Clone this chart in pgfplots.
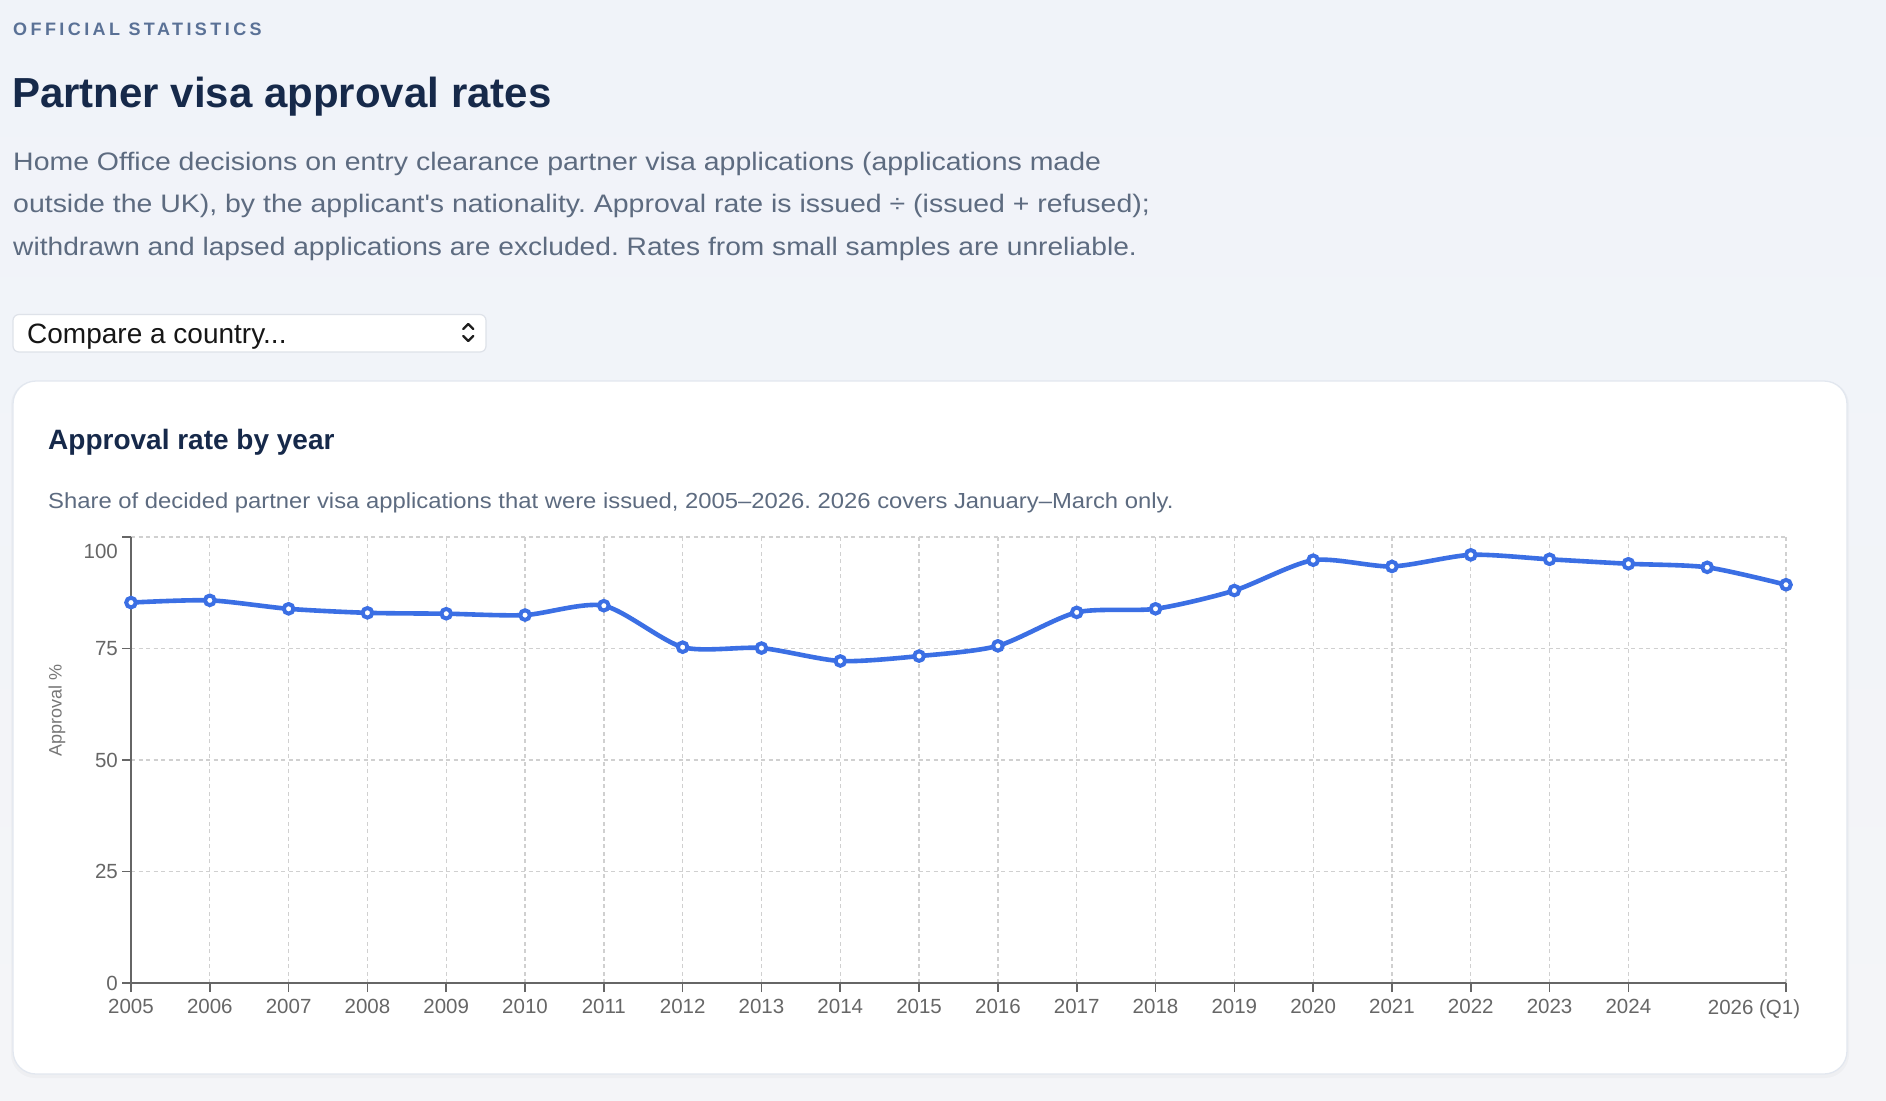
\documentclass[border=0pt]{standalone}
\usepackage{fontspec}
\setmainfont{Liberation Sans}
\newfontfamily\bodyfont{Liberation Sans}[FakeStretch=1.125]
\newfontfamily\bodyfontb{Liberation Sans}[FakeStretch=1.113]
\newfontfamily\subfont{Liberation Sans}[FakeStretch=1.093]
\usepackage{pgfplots}
\pgfplotsset{compat=1.18}
\definecolor{bgtop}{RGB}{240,243,249}
\definecolor{bgbot}{RGB}{244,245,248}
\definecolor{kicker}{RGB}{90,113,150}
\definecolor{navy}{RGB}{22,41,74}
\definecolor{descr}{RGB}{93,107,128}
\definecolor{cardline}{RGB}{226,231,239}
\definecolor{tickcol}{RGB}{102,102,102}
\definecolor{ylabcol}{RGB}{119,119,119}
\definecolor{gridcol}{RGB}{208,208,208}
\definecolor{linecol}{RGB}{59,111,228}
\definecolor{selectline}{RGB}{222,226,233}
\definecolor{selecttext}{RGB}{22,22,22}
\definecolor{chev}{RGB}{30,30,30}

\pgfplotstableread{
year rate
2005 85.3
2006 85.8
2007 83.9
2008 83.0
2009 82.8
2010 82.5
2011 84.6
2012 75.3
2013 75.1
2014 72.2
2015 73.3
2016 75.6
2017 83.1
2018 83.9
2019 88.0
2020 94.8
2021 93.4
2022 96.0
2023 95.0
2024 94.0
2025 93.2
2026 89.3
}\ratetable

\begin{document}
\frenchspacing
\begin{tikzpicture}
% page background
\shade[top color=bgtop, bottom color=bgbot] (0pt,0pt) rectangle (1886pt,-1100pt);

% header
\node[anchor=base west, inner sep=0pt, text=kicker,
      font=\fontsize{18}{20}\selectfont\bfseries\addfontfeatures{LetterSpace=19}]
  at (13pt,-35.7pt) {OFFICIAL STATISTICS};
\node[anchor=base west, inner sep=0pt, text=navy,
      font=\fontsize{42}{46}\selectfont\bfseries]
  at (12pt,-107pt) {Partner visa approval rates};
\node[anchor=base west, inner sep=0pt, text=descr, font=\bodyfont\fontsize{25.3}{30}\selectfont]
  at (13pt,-170pt) {Home Office decisions on entry clearance partner visa applications (applications made};
\node[anchor=base west, inner sep=0pt, text=descr, font=\bodyfont\fontsize{25.3}{30}\selectfont]
  at (13pt,-212.7pt) {outside the UK), by the applicant's nationality. Approval rate is issued ÷ (issued + refused);};
\node[anchor=base west, inner sep=0pt, text=descr, font=\bodyfontb\fontsize{25.3}{30}\selectfont]
  at (13pt,-255.3pt) {withdrawn and lapsed applications are excluded. Rates from small samples are unreliable.};

% select box
\filldraw[fill=white, draw=selectline, line width=1.2pt, rounded corners=6pt]
  (13pt,-314.5pt) rectangle (486pt,-352pt);
\node[anchor=base west, inner sep=0pt, text=selecttext, font=\fontsize{28}{30}\selectfont]
  at (27pt,-343pt) {Compare a country...};
\draw[line width=2.3pt, draw=chev, line cap=round, line join=round]
  (463.3pt,-329pt) -- (468.3pt,-324pt) -- (473.3pt,-329pt);
\draw[line width=2.3pt, draw=chev, line cap=round, line join=round]
  (463.3pt,-336pt) -- (468.3pt,-341pt) -- (473.3pt,-336pt);

% card
\fill[black, opacity=0.025, rounded corners=24pt] (11pt,-381pt) rectangle (1849pt,-1078pt);
\filldraw[fill=white, draw=cardline, line width=1.3pt, rounded corners=23pt]
  (13pt,-381pt) rectangle (1847pt,-1074pt);
\node[anchor=base west, inner sep=0pt, text=navy, font=\fontsize{28}{32}\selectfont\bfseries]
  at (48pt,-449pt) {Approval rate by year};
\node[anchor=base west, inner sep=0pt, text=descr, font=\subfont\fontsize{21.8}{26}\selectfont]
  at (48pt,-508pt) {Share of decided partner visa applications that were issued, 2005–2026. 2026 covers January–March only.};

\begin{axis}[
  at={(131pt,-983pt)}, anchor=south west,
  scale only axis, width=1655pt, height=446pt,
  xmin=2005, xmax=2026, ymin=0, ymax=100,
  axis lines=left,
  axis line style={draw=tickcol, line width=2pt, -},
  xtick={2005,2006,2007,2008,2009,2010,2011,2012,2013,2014,2015,2016,2017,2018,2019,2020,2021,2022,2023,2024,2026},
  xticklabels={2005,2006,2007,2008,2009,2010,2011,2012,2013,2014,2015,2016,2017,2018,2019,2020,2021,2022,2023,2024,{\hspace*{-64pt}2026 (Q1)}},
  ytick={0,25,50,75,100},
  yticklabels={0,25,50,75,{\smash{\raisebox{-21pt}{100}}}},
  tick align=outside,
  major tick length=9pt,
  tick style={draw=tickcol, line width=1.6pt},
  tick label style={font=\fontsize{20.5}{24}\selectfont, text=tickcol, inner sep=0pt},
  xticklabel shift=7pt,
  yticklabel shift=4pt,
  grid=major,
  grid style={draw=gridcol, line width=1.3pt, dash pattern=on 4pt off 3.5pt},
  ylabel={Approval \%},
  every axis y label/.style={at={(axis description cs:-0.0447,0.61)}, rotate=90, anchor=center, font=\fontsize{18}{20}\selectfont, text=ylabcol},
  clip=false,
]
\addplot[draw=linecol, line width=4.6pt, smooth, tension=0.45,
  mark=*, mark size=4.8pt,
  mark options={fill=white, draw=linecol, line width=4pt, solid}]
  table[x=year, y=rate] {\ratetable};
\end{axis}

\pgfresetboundingbox
\useasboundingbox (0pt,0pt) rectangle (1886pt,-1100pt);
\end{tikzpicture}
\end{document}
